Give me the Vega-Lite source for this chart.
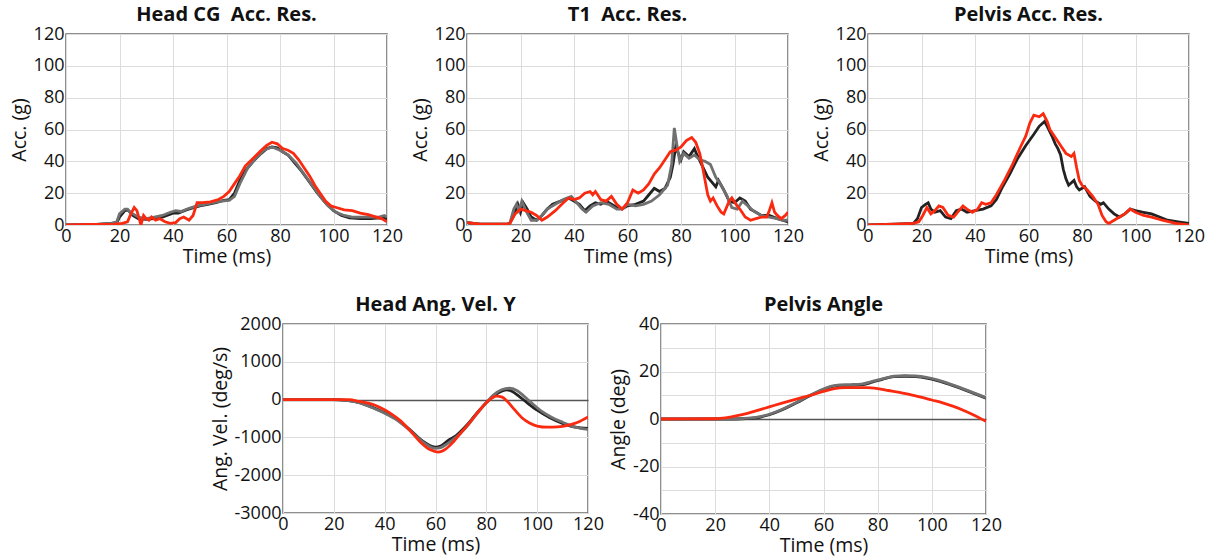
{
"$schema": "https://vega.github.io/schema/vega-lite/v6.json",
"padding": {"left": 8, "top": 4, "right": 4, "bottom": 4},
"background": "white",
"datasets": {
"h": [
{"s":"k","t":0,"v":0},{"s":"k","t":10,"v":0.3},{"s":"k","t":17,"v":1},{"s":"k","t":19,"v":1.5},{"s":"k","t":20,"v":5},{"s":"k","t":22,"v":9},{"s":"k","t":23,"v":9.5},{"s":"k","t":24,"v":8},{"s":"k","t":25,"v":6},{"s":"k","t":27,"v":4},{"s":"k","t":30,"v":3.5},{"s":"k","t":33,"v":4},{"s":"k","t":36,"v":5},{"s":"k","t":40,"v":7.5},{"s":"k","t":42,"v":7.5},{"s":"k","t":45,"v":9.5},{"s":"k","t":48,"v":11},{"s":"k","t":50,"v":12},{"s":"k","t":53,"v":13},{"s":"k","t":56,"v":14},{"s":"k","t":59,"v":15.5},{"s":"k","t":61,"v":16},{"s":"k","t":63,"v":20},{"s":"k","t":65,"v":28},{"s":"k","t":67,"v":34},{"s":"k","t":70,"v":40},{"s":"k","t":73,"v":45},{"s":"k","t":75,"v":48},{"s":"k","t":77,"v":49},{"s":"k","t":79,"v":48.5},{"s":"k","t":81,"v":46},{"s":"k","t":83,"v":44},{"s":"k","t":85,"v":40},{"s":"k","t":88,"v":34},{"s":"k","t":91,"v":27},{"s":"k","t":94,"v":20},{"s":"k","t":97,"v":14},{"s":"k","t":100,"v":9},{"s":"k","t":103,"v":6},{"s":"k","t":106,"v":4.5},{"s":"k","t":110,"v":4},{"s":"k","t":114,"v":4},{"s":"k","t":117,"v":4.5},{"s":"k","t":120,"v":4},
{"s":"g","t":0,"v":0},{"s":"g","t":10,"v":0.3},{"s":"g","t":17,"v":1},{"s":"g","t":19,"v":2},{"s":"g","t":20,"v":7},{"s":"g","t":22,"v":10},{"s":"g","t":23,"v":10},{"s":"g","t":24,"v":8},{"s":"g","t":25,"v":7},{"s":"g","t":27,"v":5},{"s":"g","t":30,"v":4},{"s":"g","t":33,"v":5},{"s":"g","t":36,"v":6},{"s":"g","t":39,"v":8},{"s":"g","t":41,"v":9},{"s":"g","t":43,"v":8.5},{"s":"g","t":46,"v":10.5},{"s":"g","t":49,"v":12},{"s":"g","t":52,"v":13},{"s":"g","t":55,"v":14},{"s":"g","t":58,"v":15},{"s":"g","t":61,"v":15.5},{"s":"g","t":63,"v":18},{"s":"g","t":65,"v":26},{"s":"g","t":68,"v":36},{"s":"g","t":71,"v":42},{"s":"g","t":74,"v":47},{"s":"g","t":77,"v":49},{"s":"g","t":80,"v":47},{"s":"g","t":83,"v":44},{"s":"g","t":86,"v":39},{"s":"g","t":89,"v":32},{"s":"g","t":92,"v":25},{"s":"g","t":95,"v":18},{"s":"g","t":98,"v":12},{"s":"g","t":101,"v":8},{"s":"g","t":104,"v":6},{"s":"g","t":107,"v":5},{"s":"g","t":110,"v":5},{"s":"g","t":114,"v":5},{"s":"g","t":117,"v":5},{"s":"g","t":119,"v":6},{"s":"g","t":120,"v":5},
{"s":"r","t":0,"v":0},{"s":"r","t":10,"v":0.3},{"s":"r","t":18,"v":0.5},{"s":"r","t":21,"v":1},{"s":"r","t":23,"v":2},{"s":"r","t":24,"v":6},{"s":"r","t":25.5,"v":11},{"s":"r","t":26.5,"v":9},{"s":"r","t":27.5,"v":3},{"s":"r","t":28,"v":0},{"s":"r","t":29,"v":6},{"s":"r","t":30,"v":4},{"s":"r","t":31,"v":3},{"s":"r","t":32,"v":5},{"s":"r","t":33.5,"v":3},{"s":"r","t":35,"v":4},{"s":"r","t":37,"v":2},{"s":"r","t":39,"v":1},{"s":"r","t":41,"v":1.5},{"s":"r","t":42.5,"v":4},{"s":"r","t":44,"v":5},{"s":"r","t":46,"v":3},{"s":"r","t":47.5,"v":6},{"s":"r","t":49,"v":14},{"s":"r","t":51,"v":14},{"s":"r","t":54,"v":14.5},{"s":"r","t":57,"v":16},{"s":"r","t":59,"v":18},{"s":"r","t":61,"v":21},{"s":"r","t":63,"v":26},{"s":"r","t":65,"v":31},{"s":"r","t":67,"v":37},{"s":"r","t":70,"v":42},{"s":"r","t":73,"v":47},{"s":"r","t":75,"v":50},{"s":"r","t":77,"v":52},{"s":"r","t":79,"v":51},{"s":"r","t":81,"v":48},{"s":"r","t":83,"v":47},{"s":"r","t":85,"v":45},{"s":"r","t":87,"v":41},{"s":"r","t":89,"v":36},{"s":"r","t":91,"v":31},{"s":"r","t":93,"v":25},{"s":"r","t":95,"v":20},{"s":"r","t":97,"v":15},{"s":"r","t":99,"v":12},{"s":"r","t":101,"v":11},{"s":"r","t":104,"v":9.5},{"s":"r","t":107,"v":9},{"s":"r","t":110,"v":7.5},{"s":"r","t":113,"v":6.5},{"s":"r","t":116,"v":5},{"s":"r","t":118,"v":4},{"s":"r","t":120,"v":2}
],
"t1": [
{"s":"k","t":0,"v":1.5},{"s":"k","t":5,"v":0.5},{"s":"k","t":15,"v":0.5},{"s":"k","t":16,"v":1},{"s":"k","t":17.5,"v":6},{"s":"k","t":19,"v":13},{"s":"k","t":20,"v":8},{"s":"k","t":21,"v":14},{"s":"k","t":22.5,"v":10},{"s":"k","t":24,"v":5},{"s":"k","t":26,"v":3},{"s":"k","t":28,"v":6},{"s":"k","t":30,"v":10},{"s":"k","t":32,"v":13},{"s":"k","t":35,"v":15},{"s":"k","t":38,"v":17},{"s":"k","t":40,"v":15},{"s":"k","t":42,"v":13},{"s":"k","t":44,"v":9},{"s":"k","t":46,"v":12},{"s":"k","t":48,"v":14},{"s":"k","t":50,"v":13},{"s":"k","t":52,"v":15},{"s":"k","t":54,"v":13},{"s":"k","t":56,"v":11},{"s":"k","t":58,"v":10},{"s":"k","t":60,"v":12},{"s":"k","t":63,"v":13},{"s":"k","t":66,"v":15},{"s":"k","t":68,"v":19},{"s":"k","t":70,"v":23},{"s":"k","t":72,"v":21},{"s":"k","t":74,"v":23},{"s":"k","t":76,"v":30},{"s":"k","t":77,"v":38},{"s":"k","t":78,"v":49},{"s":"k","t":79,"v":45},{"s":"k","t":80,"v":41},{"s":"k","t":81,"v":46},{"s":"k","t":83,"v":43},{"s":"k","t":85,"v":48},{"s":"k","t":86,"v":44},{"s":"k","t":88,"v":37},{"s":"k","t":90,"v":30},{"s":"k","t":92,"v":26},{"s":"k","t":93,"v":24},{"s":"k","t":94,"v":28},{"s":"k","t":96,"v":22},{"s":"k","t":98,"v":15},{"s":"k","t":100,"v":14},{"s":"k","t":102,"v":17},{"s":"k","t":104,"v":15},{"s":"k","t":106,"v":10},{"s":"k","t":108,"v":8},{"s":"k","t":110,"v":6},{"s":"k","t":113,"v":6},{"s":"k","t":116,"v":4},{"s":"k","t":118,"v":3},{"s":"k","t":120,"v":2},
{"s":"g","t":0,"v":1.5},{"s":"g","t":5,"v":0.5},{"s":"g","t":15,"v":0.5},{"s":"g","t":16,"v":1},{"s":"g","t":17.5,"v":10},{"s":"g","t":18.5,"v":13},{"s":"g","t":19.5,"v":9},{"s":"g","t":20.5,"v":15},{"s":"g","t":22,"v":9},{"s":"g","t":24,"v":3},{"s":"g","t":26,"v":3},{"s":"g","t":28,"v":6},{"s":"g","t":30,"v":10},{"s":"g","t":33,"v":13},{"s":"g","t":36,"v":16},{"s":"g","t":39,"v":18},{"s":"g","t":41,"v":14},{"s":"g","t":43,"v":10},{"s":"g","t":44.5,"v":8},{"s":"g","t":47,"v":12},{"s":"g","t":50,"v":14},{"s":"g","t":53,"v":13},{"s":"g","t":56,"v":10},{"s":"g","t":58,"v":10},{"s":"g","t":60,"v":13},{"s":"g","t":63,"v":12},{"s":"g","t":66,"v":13},{"s":"g","t":69,"v":15},{"s":"g","t":72,"v":19},{"s":"g","t":75,"v":25},{"s":"g","t":76.5,"v":38},{"s":"g","t":77.5,"v":61},{"s":"g","t":78.5,"v":50},{"s":"g","t":79.5,"v":40},{"s":"g","t":81,"v":45},{"s":"g","t":83,"v":42},{"s":"g","t":85,"v":44},{"s":"g","t":87,"v":41},{"s":"g","t":89,"v":40},{"s":"g","t":91,"v":38},{"s":"g","t":93,"v":30},{"s":"g","t":95,"v":25},{"s":"g","t":97,"v":19},{"s":"g","t":99,"v":11},{"s":"g","t":101,"v":10},{"s":"g","t":103,"v":15},{"s":"g","t":105,"v":12},{"s":"g","t":107,"v":9},{"s":"g","t":110,"v":6},{"s":"g","t":113,"v":5},{"s":"g","t":116,"v":4},{"s":"g","t":118,"v":3},{"s":"g","t":120,"v":3},
{"s":"r","t":0,"v":1.5},{"s":"r","t":5,"v":0.5},{"s":"r","t":15,"v":0.5},{"s":"r","t":16,"v":1},{"s":"r","t":18,"v":7},{"s":"r","t":20,"v":10},{"s":"r","t":22,"v":9},{"s":"r","t":24,"v":8},{"s":"r","t":26,"v":6},{"s":"r","t":28,"v":3},{"s":"r","t":30,"v":5},{"s":"r","t":33,"v":9},{"s":"r","t":36,"v":14},{"s":"r","t":38,"v":17},{"s":"r","t":40,"v":16},{"s":"r","t":42,"v":17},{"s":"r","t":44,"v":20},{"s":"r","t":46,"v":21},{"s":"r","t":47,"v":19},{"s":"r","t":48,"v":21},{"s":"r","t":50,"v":16},{"s":"r","t":52,"v":15},{"s":"r","t":54,"v":18},{"s":"r","t":56,"v":13},{"s":"r","t":58,"v":10},{"s":"r","t":60,"v":14},{"s":"r","t":62,"v":22},{"s":"r","t":64,"v":20},{"s":"r","t":66,"v":22},{"s":"r","t":68,"v":26},{"s":"r","t":70,"v":32},{"s":"r","t":72,"v":36},{"s":"r","t":74,"v":41},{"s":"r","t":76,"v":46},{"s":"r","t":78,"v":47},{"s":"r","t":80,"v":49},{"s":"r","t":82,"v":53},{"s":"r","t":84,"v":55},{"s":"r","t":85.5,"v":52},{"s":"r","t":87,"v":45},{"s":"r","t":88,"v":37},{"s":"r","t":89,"v":28},{"s":"r","t":90,"v":19},{"s":"r","t":91,"v":15},{"s":"r","t":92,"v":17},{"s":"r","t":93.5,"v":12},{"s":"r","t":95,"v":8},{"s":"r","t":96,"v":7},{"s":"r","t":98,"v":15},{"s":"r","t":99,"v":17},{"s":"r","t":101,"v":12},{"s":"r","t":102,"v":10},{"s":"r","t":104,"v":5},{"s":"r","t":106,"v":3},{"s":"r","t":108,"v":4},{"s":"r","t":110,"v":5},{"s":"r","t":112,"v":5},{"s":"r","t":113,"v":9},{"s":"r","t":114,"v":14},{"s":"r","t":115,"v":8},{"s":"r","t":116,"v":6},{"s":"r","t":117.5,"v":4},{"s":"r","t":119,"v":6},{"s":"r","t":120,"v":8}
],
"pv": [
{"s":"k","t":0,"v":0},{"s":"k","t":10,"v":0.5},{"s":"k","t":17,"v":1},{"s":"k","t":18.5,"v":4},{"s":"k","t":20,"v":11},{"s":"k","t":21.5,"v":13},{"s":"k","t":22.5,"v":14},{"s":"k","t":23.5,"v":10},{"s":"k","t":25,"v":8},{"s":"k","t":27,"v":9},{"s":"k","t":29,"v":5},{"s":"k","t":31,"v":4},{"s":"k","t":33,"v":9},{"s":"k","t":35,"v":10},{"s":"k","t":37,"v":8},{"s":"k","t":40,"v":9},{"s":"k","t":43,"v":10},{"s":"k","t":46,"v":12},{"s":"k","t":48,"v":16},{"s":"k","t":50,"v":23},{"s":"k","t":53,"v":32},{"s":"k","t":56,"v":42},{"s":"k","t":59,"v":50},{"s":"k","t":62,"v":57},{"s":"k","t":64,"v":62},{"s":"k","t":66,"v":65},{"s":"k","t":67,"v":62},{"s":"k","t":69,"v":55},{"s":"k","t":70,"v":51},{"s":"k","t":71,"v":48},{"s":"k","t":72,"v":44},{"s":"k","t":73,"v":35},{"s":"k","t":74,"v":29},{"s":"k","t":75,"v":25},{"s":"k","t":77,"v":28},{"s":"k","t":78,"v":24},{"s":"k","t":79,"v":22},{"s":"k","t":81,"v":24},{"s":"k","t":83,"v":18},{"s":"k","t":85,"v":15},{"s":"k","t":87,"v":13},{"s":"k","t":88,"v":14},{"s":"k","t":90,"v":10},{"s":"k","t":92,"v":7},{"s":"k","t":94,"v":5},{"s":"k","t":96,"v":7},{"s":"k","t":98,"v":10},{"s":"k","t":100,"v":9},{"s":"k","t":103,"v":8},{"s":"k","t":106,"v":7},{"s":"k","t":109,"v":5},{"s":"k","t":112,"v":3},{"s":"k","t":116,"v":2},{"s":"k","t":120,"v":1},
{"s":"r","t":0,"v":0},{"s":"r","t":10,"v":0.5},{"s":"r","t":17,"v":1},{"s":"r","t":19,"v":2},{"s":"r","t":20.5,"v":6},{"s":"r","t":22,"v":11},{"s":"r","t":23.5,"v":7},{"s":"r","t":25,"v":9},{"s":"r","t":26.5,"v":12},{"s":"r","t":28,"v":11},{"s":"r","t":30,"v":6},{"s":"r","t":32,"v":5},{"s":"r","t":34,"v":9},{"s":"r","t":35.5,"v":12},{"s":"r","t":37,"v":10},{"s":"r","t":39,"v":8},{"s":"r","t":41,"v":10},{"s":"r","t":42.5,"v":14},{"s":"r","t":44,"v":13},{"s":"r","t":46,"v":14},{"s":"r","t":48,"v":19},{"s":"r","t":51,"v":28},{"s":"r","t":54,"v":38},{"s":"r","t":57,"v":49},{"s":"r","t":59,"v":56},{"s":"r","t":60.5,"v":64},{"s":"r","t":62,"v":69},{"s":"r","t":64,"v":68},{"s":"r","t":65.5,"v":70},{"s":"r","t":67,"v":65},{"s":"r","t":68,"v":60},{"s":"r","t":70,"v":55},{"s":"r","t":72,"v":50},{"s":"r","t":74,"v":45},{"s":"r","t":76,"v":43},{"s":"r","t":77,"v":45},{"s":"r","t":78,"v":36},{"s":"r","t":79,"v":28},{"s":"r","t":80,"v":25},{"s":"r","t":82,"v":22},{"s":"r","t":84,"v":18},{"s":"r","t":86,"v":13},{"s":"r","t":87.5,"v":6},{"s":"r","t":89,"v":2},{"s":"r","t":90,"v":1},{"s":"r","t":92,"v":3},{"s":"r","t":94,"v":5},{"s":"r","t":96,"v":7},{"s":"r","t":98,"v":10},{"s":"r","t":100,"v":8},{"s":"r","t":103,"v":6},{"s":"r","t":106,"v":5},{"s":"r","t":110,"v":3},{"s":"r","t":115,"v":1},{"s":"r","t":120,"v":0}
],
"av": [
{"s":"k","t":0,"v":0},{"s":"k","t":20,"v":0},{"s":"k","t":25,"v":-20},{"s":"k","t":30,"v":-80},{"s":"k","t":35,"v":-200},{"s":"k","t":40,"v":-350},{"s":"k","t":45,"v":-530},{"s":"k","t":50,"v":-800},{"s":"k","t":55,"v":-1100},{"s":"k","t":58,"v":-1220},{"s":"k","t":60,"v":-1260},{"s":"k","t":62,"v":-1230},{"s":"k","t":65,"v":-1080},{"s":"k","t":68,"v":-960},{"s":"k","t":72,"v":-700},{"s":"k","t":76,"v":-380},{"s":"k","t":80,"v":-80},{"s":"k","t":83,"v":100},{"s":"k","t":86,"v":220},{"s":"k","t":88,"v":260},{"s":"k","t":90,"v":220},{"s":"k","t":93,"v":80},{"s":"k","t":96,"v":-80},{"s":"k","t":100,"v":-280},{"s":"k","t":105,"v":-480},{"s":"k","t":110,"v":-630},{"s":"k","t":115,"v":-730},{"s":"k","t":120,"v":-760},
{"s":"g","t":0,"v":0},{"s":"g","t":20,"v":0},{"s":"g","t":25,"v":-20},{"s":"g","t":30,"v":-80},{"s":"g","t":35,"v":-210},{"s":"g","t":40,"v":-360},{"s":"g","t":45,"v":-550},{"s":"g","t":50,"v":-820},{"s":"g","t":55,"v":-1120},{"s":"g","t":58,"v":-1250},{"s":"g","t":60,"v":-1290},{"s":"g","t":62,"v":-1270},{"s":"g","t":65,"v":-1150},{"s":"g","t":68,"v":-1000},{"s":"g","t":72,"v":-740},{"s":"g","t":76,"v":-400},{"s":"g","t":80,"v":-80},{"s":"g","t":83,"v":130},{"s":"g","t":86,"v":260},{"s":"g","t":89,"v":300},{"s":"g","t":92,"v":240},{"s":"g","t":95,"v":80},{"s":"g","t":98,"v":-100},{"s":"g","t":102,"v":-320},{"s":"g","t":106,"v":-480},{"s":"g","t":110,"v":-600},{"s":"g","t":115,"v":-730},{"s":"g","t":120,"v":-790},
{"s":"r","t":0,"v":0},{"s":"r","t":22,"v":0},{"s":"r","t":26,"v":0},{"s":"r","t":30,"v":-50},{"s":"r","t":35,"v":-120},{"s":"r","t":38,"v":-200},{"s":"r","t":42,"v":-350},{"s":"r","t":46,"v":-550},{"s":"r","t":50,"v":-820},{"s":"r","t":54,"v":-1120},{"s":"r","t":58,"v":-1330},{"s":"r","t":61,"v":-1390},{"s":"r","t":64,"v":-1310},{"s":"r","t":67,"v":-1120},{"s":"r","t":70,"v":-880},{"s":"r","t":74,"v":-560},{"s":"r","t":78,"v":-230},{"s":"r","t":81,"v":-20},{"s":"r","t":84,"v":90},{"s":"r","t":86,"v":70},{"s":"r","t":88,"v":-30},{"s":"r","t":91,"v":-260},{"s":"r","t":94,"v":-480},{"s":"r","t":97,"v":-620},{"s":"r","t":100,"v":-700},{"s":"r","t":104,"v":-730},{"s":"r","t":108,"v":-720},{"s":"r","t":112,"v":-680},{"s":"r","t":116,"v":-600},{"s":"r","t":120,"v":-460}
],
"pa": [
{"s":"k","t":0,"v":0},{"s":"k","t":20,"v":0},{"s":"k","t":25,"v":0},{"s":"k","t":30,"v":0.1},{"s":"k","t":35,"v":0.5},{"s":"k","t":40,"v":1.8},{"s":"k","t":45,"v":4},{"s":"k","t":50,"v":6.8},{"s":"k","t":55,"v":9.8},{"s":"k","t":60,"v":12.4},{"s":"k","t":63,"v":13.6},{"s":"k","t":66,"v":14.2},{"s":"k","t":70,"v":14.2},{"s":"k","t":74,"v":14.4},{"s":"k","t":78,"v":15.5},{"s":"k","t":82,"v":16.8},{"s":"k","t":86,"v":17.8},{"s":"k","t":90,"v":18},{"s":"k","t":94,"v":17.8},{"s":"k","t":98,"v":17.2},{"s":"k","t":102,"v":16.2},{"s":"k","t":106,"v":14.8},{"s":"k","t":110,"v":13.2},{"s":"k","t":115,"v":11},{"s":"k","t":120,"v":8.8},
{"s":"g","t":0,"v":0},{"s":"g","t":20,"v":0},{"s":"g","t":25,"v":0},{"s":"g","t":30,"v":0.2},{"s":"g","t":35,"v":0.7},{"s":"g","t":40,"v":2},{"s":"g","t":45,"v":4.2},{"s":"g","t":50,"v":7},{"s":"g","t":55,"v":10},{"s":"g","t":60,"v":12.6},{"s":"g","t":63,"v":13.8},{"s":"g","t":66,"v":14.4},{"s":"g","t":70,"v":14.5},{"s":"g","t":74,"v":14.7},{"s":"g","t":78,"v":15.8},{"s":"g","t":82,"v":17},{"s":"g","t":86,"v":18},{"s":"g","t":90,"v":18.3},{"s":"g","t":94,"v":18.1},{"s":"g","t":98,"v":17.5},{"s":"g","t":102,"v":16.5},{"s":"g","t":106,"v":15},{"s":"g","t":110,"v":13.4},{"s":"g","t":115,"v":11.2},{"s":"g","t":120,"v":9},
{"s":"r","t":0,"v":0},{"s":"r","t":20,"v":0.1},{"s":"r","t":23,"v":0.4},{"s":"r","t":26,"v":0.9},{"s":"r","t":30,"v":1.8},{"s":"r","t":35,"v":3.4},{"s":"r","t":40,"v":5.1},{"s":"r","t":45,"v":6.8},{"s":"r","t":50,"v":8.4},{"s":"r","t":55,"v":9.9},{"s":"r","t":60,"v":11.6},{"s":"r","t":64,"v":12.8},{"s":"r","t":68,"v":13.2},{"s":"r","t":72,"v":13.2},{"s":"r","t":76,"v":13.2},{"s":"r","t":80,"v":12.8},{"s":"r","t":84,"v":12},{"s":"r","t":88,"v":11.2},{"s":"r","t":92,"v":10.3},{"s":"r","t":96,"v":9.2},{"s":"r","t":100,"v":8},{"s":"r","t":104,"v":6.8},{"s":"r","t":108,"v":5.3},{"s":"r","t":112,"v":3.5},{"s":"r","t":116,"v":1.4},{"s":"r","t":120,"v":-1}
]
},
"vconcat": [
{"hconcat": [
{"title": "Head CG\u00a0 Acc. Res.", "width": 321, "height": 191, "data": {"name": "h"},
 "mark": {"type": "line", "strokeWidth": 2.8, "clip": true},
 "encoding": {
  "x": {"field": "t", "type": "quantitative", "scale": {"domain": [0, 120], "nice": false}, "axis": {"values": [0,20,40,60,80,100,120], "title": "Time (ms)"}},
  "y": {"field": "v", "type": "quantitative", "scale": {"domain": [0, 120], "nice": false}, "axis": {"values": [0,20,40,60,80,100,120], "title": "Acc. (g)"}},
  "color": {"field": "s", "type": "nominal", "sort": ["k","g","r"], "scale": {"domain": ["k","g","r"], "range": ["#222222","#707070","#fa2a10"]}, "legend": null}
 }},
{"title": "T1\u00a0 Acc. Res.", "width": 321, "height": 191, "data": {"name": "t1"},
 "mark": {"type": "line", "strokeWidth": 2.8, "clip": true},
 "encoding": {
  "x": {"field": "t", "type": "quantitative", "scale": {"domain": [0, 120], "nice": false}, "axis": {"values": [0,20,40,60,80,100,120], "title": "Time (ms)"}},
  "y": {"field": "v", "type": "quantitative", "scale": {"domain": [0, 120], "nice": false}, "axis": {"values": [0,20,40,60,80,100,120], "title": "Acc. (g)"}},
  "color": {"field": "s", "type": "nominal", "sort": ["k","g","r"], "scale": {"domain": ["k","g","r"], "range": ["#222222","#707070","#fa2a10"]}, "legend": null}
 }},
{"title": "Pelvis Acc. Res.", "width": 321, "height": 191, "data": {"name": "pv"},
 "mark": {"type": "line", "strokeWidth": 2.8, "clip": true},
 "encoding": {
  "x": {"field": "t", "type": "quantitative", "scale": {"domain": [0, 120], "nice": false}, "axis": {"values": [0,20,40,60,80,100,120], "title": "Time (ms)"}},
  "y": {"field": "v", "type": "quantitative", "scale": {"domain": [0, 120], "nice": false}, "axis": {"values": [0,20,40,60,80,100,120], "title": "Acc. (g)"}},
  "color": {"field": "s", "type": "nominal", "sort": ["k","g","r"], "scale": {"domain": ["k","g","r"], "range": ["#222222","#707070","#fa2a10"]}, "legend": null}
 }}
], "spacing": 5},
{"hconcat": [
{"width": 141, "height": 10, "data": {"values": [{"s": "x"}]}, "view": {"stroke": null},
 "mark": {"type": "text", "text": ""}, "encoding": {}},
{"title": "Head Ang. Vel. Y", "width": 305, "height": 189, "data": {"name": "av"},
 "mark": {"type": "line", "strokeWidth": 2.8, "interpolate": "monotone", "clip": true},
 "encoding": {
  "x": {"field": "t", "type": "quantitative", "scale": {"domain": [0, 120], "nice": false}, "axis": {"values": [0,20,40,60,80,100,120], "title": "Time (ms)"}},
  "y": {"field": "v", "type": "quantitative", "scale": {"domain": [-3000, 2000], "nice": false}, "axis": {"values": [-3000,-2000,-1000,0,1000,2000], "labelExpr": "toString(datum.value)", "title": "Ang. Vel. (deg/s)", "gridColor": {"condition": {"test": "datum.value === 0", "value": "#555555"}, "value": "#dcdcdc"}, "gridWidth": {"condition": {"test": "datum.value === 0", "value": 1.3}, "value": 1}}},
  "color": {"field": "s", "type": "nominal", "sort": ["k","g","r"], "scale": {"domain": ["k","g","r"], "range": ["#222222","#707070","#fa2a10"]}, "legend": null}
 }},
{"title": "Pelvis Angle", "width": 325, "height": 190, "data": {"name": "pa"},
 "mark": {"type": "line", "strokeWidth": 2.8, "interpolate": "monotone", "clip": true},
 "encoding": {
  "x": {"field": "t", "type": "quantitative", "scale": {"domain": [0, 120], "nice": false}, "axis": {"values": [0,20,40,60,80,100,120], "title": "Time (ms)"}},
  "y": {"field": "v", "type": "quantitative", "scale": {"domain": [-40, 40], "nice": false}, "axis": {"values": [-40,-30,-20,-10,0,10,20,30,40], "labelExpr": "datum.value % 20 === 0 ? toString(datum.value) : ''", "title": "Angle (deg)", "gridColor": {"condition": {"test": "datum.value === 0", "value": "#555555"}, "value": "#dcdcdc"}, "gridWidth": {"condition": {"test": "datum.value === 0", "value": 1.3}, "value": 1}}},
  "color": {"field": "s", "type": "nominal", "sort": ["k","g","r"], "scale": {"domain": ["k","g","r"], "range": ["#222222","#707070","#fa2a10"]}, "legend": null}
 }}
], "spacing": 2}
],
"spacing": 27,
"resolve": {"scale": {"color": "independent", "x": "independent", "y": "independent"}},
"config": {
 "font": "Open Sans",
 "view": {"stroke": "#6b6b6b", "strokeWidth": 1.5},
 "axis": {"labelFont": "Open Sans", "labelFontSize": 18, "labelColor": "#111111", "titleFont": "Open Sans", "titleFontSize": 19.5, "titleFontWeight": "normal", "titleColor": "#111111", "ticks": false, "domain": false, "gridColor": "#dcdcdc", "gridWidth": 1, "labelFlush": false, "labelOverlap": false, "labelPadding": 2, "titlePadding": 4},
 "axisX": {"titlePadding": 2},
 "title": {"font": "Open Sans", "fontSize": 20, "fontWeight": "bold", "color": "#111111", "offset": 0.1}
}
}
